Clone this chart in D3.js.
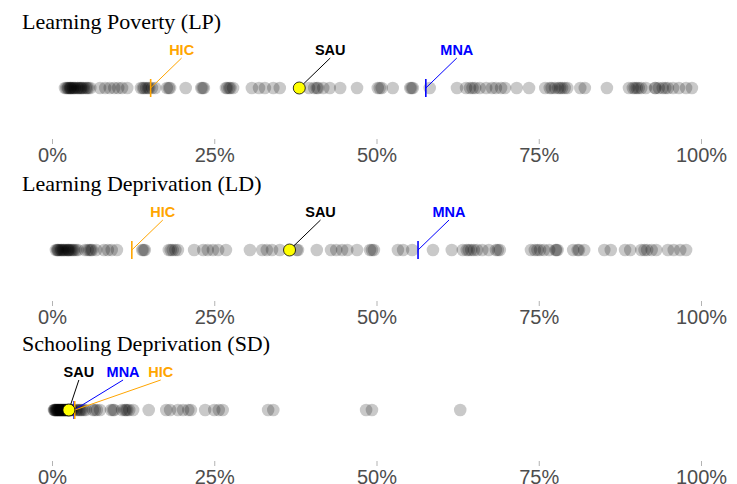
<!DOCTYPE html>
<html>
<head>
<meta charset="utf-8">
<script src="https://cdn.jsdelivr.net/npm/d3@7"></script>
<style>
  body { margin: 0; background: #fff; }
</style>
</head>
<body>
<svg></svg>
<script>
const size = {w: 737, h: 484};
const svg = d3.select('svg')
    .attr('width', size.w)
    .attr('height', size.h);

// ---------- DATA ----------
const panelTitles = ['Learning Poverty (LP)', 'Learning Deprivation (LD)', 'Schooling Deprivation (SD)'];
const tickValues = [0, 25, 50, 75, 100];
const markerNames = ['MNA', 'HIC', 'SAU'];

// one value (%) per country
const lpValues = [2.0, 2.2, 2.4, 2.5, 2.7, 2.8, 2.9, 3.0, 3.2, 3.3, 3.5, 3.6, 3.9, 4.0,
    4.2, 4.4, 4.5, 4.7, 4.9, 5.2, 5.4, 5.6, 5.9,
    7.4, 8.2, 8.9, 9.6, 10.2, 10.8, 11.6, 13.7, 14.0, 14.2, 14.5, 14.8, 15.0, 15.4, 15.9,
    17.7, 18.0, 18.2, 20.6, 23.0, 23.2, 23.4, 26.8, 27.0, 27.3, 27.5, 27.9,
    30.8, 31.9, 32.8, 34.1, 35.1,
    39.6, 40.4, 40.8, 41.0, 41.8, 42.8, 44.4, 47.0, 50.2, 50.5, 50.8, 52.5,
    55.2, 55.4, 55.6, 58.2,
    62.4, 63.8, 64.4, 64.8, 65.2, 65.9, 66.9, 67.8, 68.4, 69.2, 69.8, 71.6, 73.5,
    76.0, 76.7, 77.0, 77.5, 78.0, 78.3, 78.6, 79.0, 79.4, 81.4, 82.1, 85.5,
    88.9, 89.5, 89.8, 90.1, 90.4, 90.8, 91.5,
    92.9, 93.0, 93.5, 94.1, 94.5, 94.9, 95.7, 96.6, 97.7, 98.6];

const ldValues = [0.6, 0.8, 0.9, 1.0, 1.2, 1.4, 1.5, 1.7, 1.8, 2.0, 2.2, 2.4, 2.5, 2.6,
    2.8, 3.0, 3.2, 3.4, 3.7, 4.0, 5.1, 5.5, 5.8, 6.0, 6.2, 6.8,
    8.0, 8.6, 9.2, 10.0, 13.9, 14.1, 14.3, 18.0, 18.3, 18.6, 19.0, 19.4,
    21.9, 23.3, 24.0, 24.8, 25.6, 26.8,
    30.5, 32.4, 33.1, 33.9, 35.1, 37.7, 37.9, 40.8, 43.0, 43.8, 44.7, 45.5, 47.0,
    49.0, 49.3, 49.6, 53.3, 54.1, 55.5, 58.7, 61.6,
    63.3, 63.9, 64.2, 64.6, 65.0, 65.5, 66.3, 67.3, 68.4, 68.7, 69.0,
    73.8, 74.4, 74.8, 75.2, 75.8, 76.6, 77.6, 77.7, 77.9, 80.3, 81.0, 81.2, 82.0,
    85.1, 86.1, 88.3, 89.1, 90.8, 91.3, 91.7, 92.4, 93.1, 94.9, 95.8, 96.8, 97.7];

const sdValues = [0.3, 0.4, 0.4, 0.5, 0.6, 0.6, 0.7, 0.8, 0.8, 0.9, 1.0, 1.0, 1.1,
    1.2, 1.2, 1.3, 1.4, 1.4, 1.5, 1.6, 1.6, 1.7, 1.8, 1.8, 1.9, 2.0, 2.0, 2.1,
    2.2, 2.2, 2.3, 2.4, 2.4, 2.5, 2.6, 2.7, 2.8, 2.9, 3.0, 3.1, 3.3,
    3.7, 3.9, 4.2, 4.4, 4.6, 4.9, 5.2,
    6.3, 6.6, 6.9, 7.4, 9.1, 9.4, 9.6, 10.8, 11.2, 11.4, 11.6, 11.9, 12.5,
    14.9, 17.6, 18.2, 19.4, 20.2, 21.0, 21.4, 23.6, 25.0, 25.7, 26.3,
    33.3, 34.1, 48.4, 49.3, 62.9];

// MNA, HIC, SAU
const lpMarkers = [57.6, 15.2, 38.1];
const ldMarkers = [56.4, 12.3, 36.6];
const sdMarkers = [3.4, 3.5, 2.6];

const markerColors = {HIC: '#FFA500', SAU: '#000000', MNA: '#0000FF'};

// ---------- LAYOUT ----------
const x = d3.scaleLinear().domain([0, 100]).range([52, 701]);

const panels = [
    {title: panelTitles[0], values: lpValues, markers: lpMarkers, y: 88,
        labelDx: {MNA: 31, HIC: 31, SAU: 31}},
    {title: panelTitles[1], values: ldValues, markers: ldMarkers, y: 250,
        labelDx: {MNA: 31, HIC: 31, SAU: 31}},
    {title: panelTitles[2], values: sdValues, markers: sdMarkers, y: 410,
        labelDx: {MNA: 49, HIC: 86, SAU: 10}}
];

panels.forEach(function(p) {
    let g = svg.append('g').classed('panel', true);

    // panel title
    g.append('text')
        .attr('x', 22)
        .attr('y', p.y - 59)
        .style('font-family', '"Liberation Serif", "Times New Roman", serif')
        .style('font-size', '22px')
        .style('fill', '#000')
        .text(p.title);

    // axis, no domain line
    let axis = d3.axisBottom(x)
        .tickValues(tickValues)
        .tickFormat(d => d + '%')
        .tickSize(5)
        .tickPadding(4);

    let axisG = g.append('g')
        .attr('transform', 'translate(0,' + (p.y + 51) + ')')
        .call(axis);
    axisG.select('.domain').remove();
    axisG.selectAll('.tick line').attr('stroke', '#b3b3b3');
    axisG.selectAll('.tick text')
        .style('font-family', '"Liberation Sans", Arial, sans-serif')
        .style('font-size', '20px')
        .style('fill', '#4d4d4d');

    // country dots
    g.append('g').selectAll('circle')
        .data(p.values)
        .join('circle')
        .attr('cx', d => x(d))
        .attr('cy', p.y)
        .attr('r', 6.3)
        .style('fill', '#000')
        .style('fill-opacity', 0.21);

    let marks = markerNames.map((name, i) => ({name: name, value: p.markers[i]}));

    // vertical ticks for the regional averages
    g.selectAll('line.avg')
        .data(marks.filter(d => d.name !== 'SAU'))
        .join('line')
        .classed('avg', true)
        .attr('x1', d => x(d.value))
        .attr('x2', d => x(d.value))
        .attr('y1', p.y - 9)
        .attr('y2', p.y + 9)
        .attr('stroke', d => markerColors[d.name])
        .attr('stroke-width', 1.6);

    // leader lines
    g.selectAll('line.lead')
        .data(marks)
        .join('line')
        .classed('lead', true)
        .attr('x1', d => x(d.value))
        .attr('y1', p.y)
        .attr('x2', d => x(d.value) + p.labelDx[d.name])
        .attr('y2', p.y - 30)
        .attr('stroke', d => markerColors[d.name])
        .attr('stroke-width', 1);

    // highlighted country
    g.append('circle')
        .attr('cx', x(p.markers[2]))
        .attr('cy', p.y)
        .attr('r', 6)
        .style('fill', '#FFFF00')
        .style('stroke', '#000')
        .style('stroke-width', 0.8);

    // labels
    g.selectAll('text.lab')
        .data(marks)
        .join('text')
        .classed('lab', true)
        .attr('x', d => x(d.value) + p.labelDx[d.name])
        .attr('y', p.y - 33)
        .attr('text-anchor', 'middle')
        .style('font-family', '"Liberation Sans", Arial, sans-serif')
        .style('font-weight', 'bold')
        .style('font-size', '14.5px')
        .style('fill', d => markerColors[d.name])
        .text(d => d.name);
});
</script>
</body>
</html>
